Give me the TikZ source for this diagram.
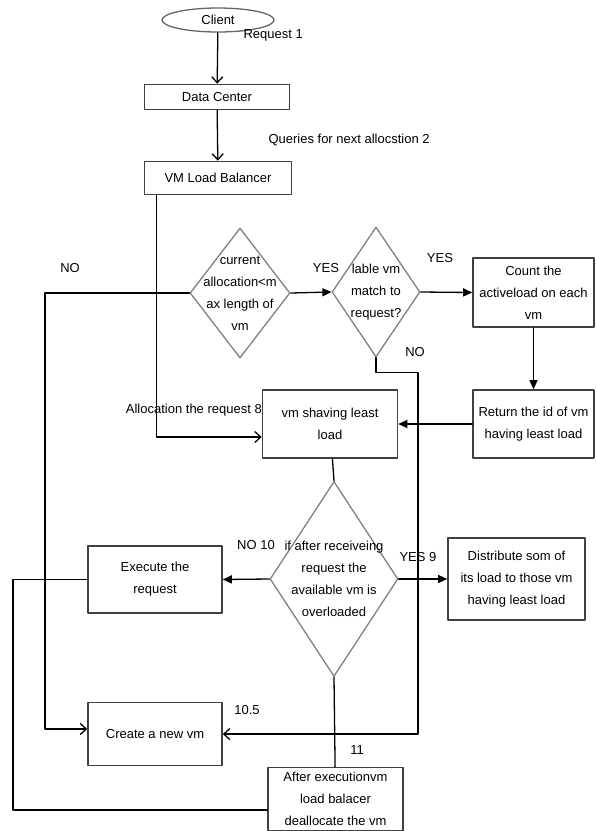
\documentclass[tikz,border=0pt]{standalone}
\usepackage{fontspec}
\setmainfont{Liberation Sans}
\usetikzlibrary{shapes.geometric,arrows.meta}
\begin{document}
\begin{tikzpicture}[x=1pt, y=-1pt, font=\fontsize{13}{22}\selectfont, line join=round, line cap=round, >={Straight Barb[length=6pt,width=11pt]},
	box/.style={draw=black!75, line width=1.6pt, inner sep=2pt, align=center},
	dia/.style={diamond, draw=black!50, line width=1.3pt, inner sep=0pt},
	txt/.style={align=center},
	lnk/.style={line width=1.3pt},
	tri/.style={lnk, -{Triangle[length=9pt,width=8pt]}}]
	\useasboundingbox (0,0) rectangle (596,831);
	% khoi xu ly
	\node[ellipse, draw=black!60, line width=1.3pt, minimum width=112pt, minimum height=24pt, inner sep=0pt] (client) at (218,20) {Client};
	\node[box, minimum width=145pt, minimum height=25pt] (dc) at (217,97) {Data Center};
	\node[box, minimum width=147pt, minimum height=33pt] (lb) at (218,178) {VM Load Balancer};
	\node[dia, minimum width=100pt, minimum height=130pt, label={[txt]center:current\\allocation<m\\ax length of\\vm}] (d1) at (240,293) {};
	\node[dia, minimum width=88pt, minimum height=130pt, label={[txt]center:lable vm\\match to\\request?}] (d2) at (376,292) {};
	\node[box, minimum width=121pt, minimum height=69pt] (count) at (533.5,292.5) {Count the\\activeload on each\\vm};
	\node[box, minimum width=121pt, minimum height=68pt] (ret) at (533.5,424) {Return the id of vm\\having least load};
	\node[box, minimum width=135pt, minimum height=68pt] (least) at (330,424) {vm shaving least\\load};
	\node[dia, minimum width=128pt, minimum height=195pt, label={[txt]center:if after receiveing\\request the\\available vm is\\overloaded}] (d3) at (334,579) {};
	\node[box, minimum width=134pt, minimum height=67pt] (exec) at (155,579.5) {Execute the\\request};
	\node[box, minimum width=137pt, minimum height=82pt] (dist) at (516.5,579) {Distribute som of\\its load to those vm\\having least load};
	\node[box, minimum width=134pt, minimum height=63pt] (create) at (155,734) {Create a new vm};
	\node[box, minimum width=135pt, minimum height=63pt] (after) at (335.5,799) {After executionvm\\load balacer\\deallocate the vm};
	% diem gap khuc
	\coordinate (nocorner) at (45,293);
	\coordinate (nobend) at (418,734);
	\coordinate (backcorner) at (13,810);
	% mui ten
	\draw[lnk,->] (client) -- (dc);
	\draw[lnk,->] (dc) -- (lb);
	\draw[lnk,->] (lb.south west) ++(13,0) |- ([yshift=-13pt]least.west);
	\draw[lnk,->] (d1.west) -- (nocorner) |- ([yshift=5pt]create.west);
	\draw[tri] (d1.east) -- (d2.west);
	\draw[tri] (d2.east) -- (count.west);
	\draw[tri] (count) -- (ret);
	\draw[tri] (ret) -- (least);
	\draw[lnk,->] (d2.south) -- ++(0,15) -| (nobend) -- (create.east);
	\draw[lnk] (least) -- (d3.north);
	\draw[tri] (d3.west) -- (exec.east);
	\draw[tri] (d3.east) -- (dist.west);
	\draw[lnk] (d3.south) -- (after);
	\draw[lnk] (exec.west) -| (backcorner) -- (backcorner -| after.west);
	% nhan
	\node[anchor=west] (lreq) at (240,35) {Request 1};
	\node[anchor=west] (lqry) at (265,140) {Queries for next allocstion 2};
	\node[anchor=east, inner sep=0pt] (lalloc) at (262,410) {Allocation the request 8};
	\foreach \t/\x/\y/\n in {NO/70/268/lnoa, YES/326/268/lyesa, YES/440/258/lyesb, NO/415/352/lnob, NO 10/256/545/lnoc, YES 9/418/557/lyesc, 10.5/247/710/lnod, 11/357/750/lnoe}
		\node (\n) at (\x,\y) {\t};
\end{tikzpicture}
\end{document}
